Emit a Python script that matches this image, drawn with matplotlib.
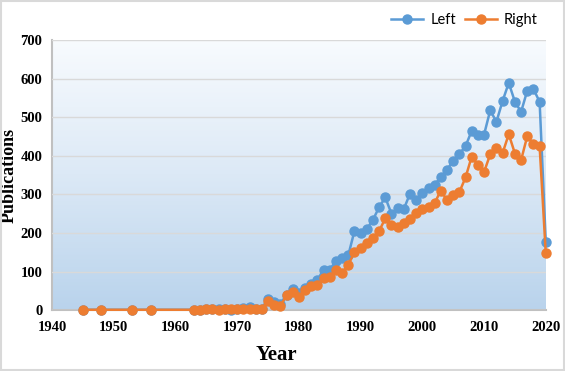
import numpy as np
import matplotlib.pyplot as plt
from matplotlib.colors import LinearSegmentedColormap
from matplotlib.patches import Rectangle

years = [1945, 1948, 1953, 1956,
         1963, 1964, 1965, 1966, 1967, 1968, 1969, 1970, 1971, 1972, 1973, 1974,
         1975, 1976, 1977, 1978, 1979, 1980, 1981, 1982, 1983, 1984,
         1985, 1986, 1987, 1988, 1989, 1990, 1991, 1992, 1993, 1994,
         1995, 1996, 1997, 1998, 1999, 2000, 2001, 2002, 2003, 2004,
         2005, 2006, 2007, 2008, 2009, 2010, 2011, 2012, 2013, 2014,
         2015, 2016, 2017, 2018, 2019, 2020]

left = [1, 1, 1, 1,
        1, 1, 2, 3, 2, 4, 1, 3, 5, 8, 3, 4,
        30, 20, 16, 40, 55, 44, 58, 68, 78, 105,
        104, 128, 134, 142, 205, 200, 210, 234, 267, 292,
        250, 264, 262, 302, 285, 304, 316, 325, 345, 364,
        387, 405, 425, 465, 455, 455, 518, 488, 542, 589,
        540, 514, 569, 573, 540, 177]

right = [1, 1, 1, 1,
         1, 1, 2, 2, 1, 3, 3, 4, 4, 3, 2, 3,
         24, 14, 11, 38, 46, 35, 52, 62, 66, 83,
         86, 104, 97, 117, 151, 162, 175, 188, 205, 238,
         221, 216, 226, 237, 252, 263, 268, 278, 310, 285,
         298, 306, 344, 398, 376, 358, 404, 421, 407, 456,
         406, 389, 451, 430, 425, 147]

serif = ['Liberation Serif', 'DejaVu Serif']

fig = plt.figure(figsize=(5.65, 3.71), dpi=100)
fig.patches.append(Rectangle((0.002, 0.003), 0.996, 0.994, transform=fig.transFigure,
                             fill=False, edgecolor='#d9d9d9', linewidth=1.5))
ax = fig.add_axes([0.092, 0.164, 0.874, 0.728])

# gradient plot area
cmap = LinearSegmentedColormap.from_list('bg', ['#b9d3ec', '#dce9f6', '#f8fbfe'])
grad = np.linspace(0, 1, 256).reshape(-1, 1)
ax.imshow(grad, cmap=cmap, aspect='auto', extent=[0, 1, 0, 1], origin='lower',
          transform=ax.transAxes, zorder=0)

ax.plot(years, left, color='#5b9bd5', marker='o', markersize=6.5, linewidth=1.8,
        label='Left', zorder=3, clip_on=False)
ax.plot(years, right, color='#ed7d31', marker='o', markersize=6.5, linewidth=1.8,
        label='Right', zorder=4, clip_on=False)

ax.set_xlim(1940, 2020)
ax.set_ylim(0, 700)
ax.set_xticks(range(1940, 2021, 10))
ax.set_yticks(range(0, 701, 100))
ax.grid(axis='y', color='#d9d9d9', linewidth=1)
ax.set_axisbelow(False)
for gl in ax.get_ygridlines():
    gl.set_zorder(1)

for s in ['top', 'right']:
    ax.spines[s].set_visible(False)
ax.spines['left'].set_color('#c0c0c0')
ax.spines['bottom'].set_color('#c0c0c0')
ax.spines['left'].set_linewidth(1.5)
ax.spines['bottom'].set_linewidth(1.5)
ax.tick_params(length=0)
ax.tick_params(axis='y', pad=7)
ax.tick_params(axis='x', pad=8)
for lab in ax.get_xticklabels() + ax.get_yticklabels():
    lab.set_fontfamily(serif)
    lab.set_fontweight('bold')
    lab.set_fontsize(10.5)

ax.set_xlabel('Year', fontfamily=serif, fontweight='bold', fontsize=15)
ax.xaxis.set_label_coords(0.455, -0.13)
ax.set_ylabel('Publications', fontfamily=serif, fontweight='bold', fontsize=13)
ax.yaxis.set_label_coords(-0.07, 0.5)

fig.legend(loc='upper right', bbox_to_anchor=(0.975, 1.0), ncol=2, frameon=False,
           prop={'family': 'Lato', 'size': 10.5}, handlelength=2.2, columnspacing=0.6,
           handletextpad=0.5)

fig.savefig('out.png', dpi=100)
